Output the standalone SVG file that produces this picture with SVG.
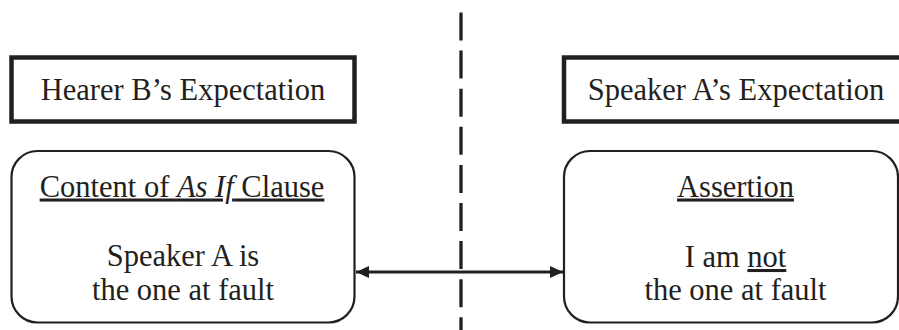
<svg xmlns="http://www.w3.org/2000/svg" width="899" height="330" viewBox="0 0 899 330">
<style>
  .t { font-family: "Liberation Serif", "Times New Roman", serif; font-size: 30.5px; fill: #231f20; text-anchor: middle; }
  .head { fill: #fff; stroke: #231f20; stroke-width: 4.5; }
  .box { fill: #fff; stroke: #231f20; stroke-width: 2.2; }
  .u { text-decoration: underline; }
</style>
<defs>
  <marker id="ah" viewBox="0 0 13 12" refX="13" refY="6" markerWidth="13" markerHeight="12" markerUnits="userSpaceOnUse" orient="auto-start-reverse">
    <path d="M0,0 L13,6 L0,12 Z" fill="#231f20"/>
  </marker>
</defs>
<g id="divider">
  <line x1="461" y1="12.5" x2="461" y2="335" stroke="#231f20" stroke-width="3.3" stroke-dasharray="28 10.1"/>
</g>
<g id="hearer-heading">
  <rect class="head" x="11.5" y="57.5" width="343" height="64"/>
  <text class="t" x="183" y="100">Hearer B’s Expectation</text>
</g>
<g id="speaker-heading">
  <rect class="head" x="564" y="57.5" width="345" height="64"/>
  <text class="t" x="736" y="100">Speaker A’s Expectation</text>
</g>
<g id="hearer-content">
  <rect class="box" x="11.5" y="151" width="343" height="171.5" rx="26" ry="26"/>
  <text class="t" x="182" y="196.5"><tspan class="u">Content of <tspan font-style="italic">As If</tspan> Clause</tspan></text>
  <text class="t" x="183" y="266">Speaker A is</text>
  <text class="t" x="183" y="299.5">the one at fault</text>
</g>
<g id="speaker-assertion">
  <rect class="box" x="564" y="151" width="334" height="171.5" rx="26" ry="26"/>
  <text class="t" x="735.5" y="196.5"><tspan class="u">Assertion</tspan></text>
  <text class="t" x="735.5" y="267">I am <tspan class="u">not</tspan></text>
  <text class="t" x="735.5" y="300">the one at fault</text>
</g>
<g id="connectors">
  <line x1="356" y1="272" x2="563" y2="272" stroke="#231f20" stroke-width="3" marker-start="url(#ah)" marker-end="url(#ah)"/>
</g>
</svg>
